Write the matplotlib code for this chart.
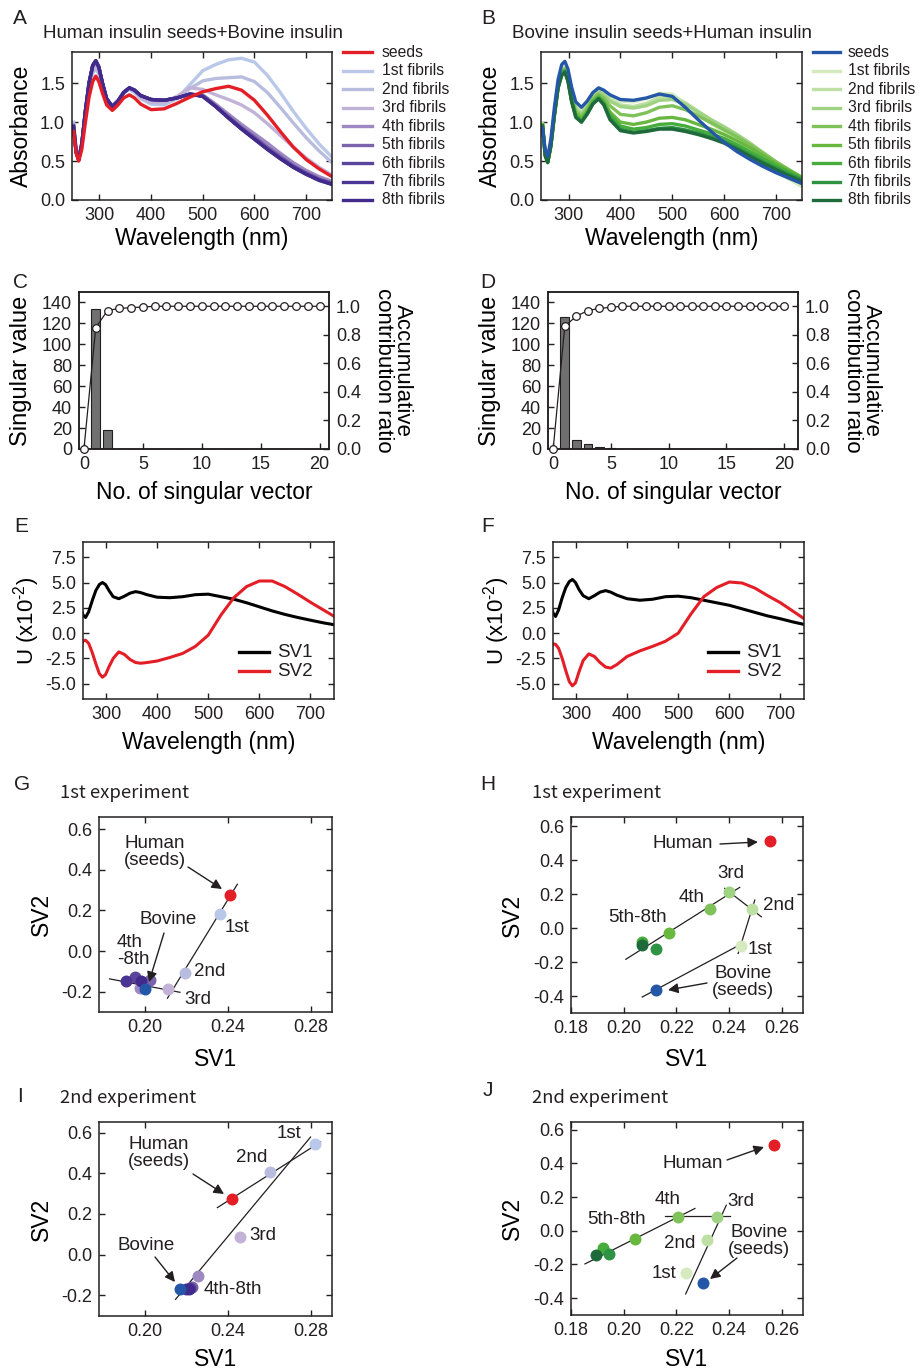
import matplotlib
matplotlib.use("Agg")
import matplotlib.pyplot as plt
from matplotlib.lines import Line2D

plt.rcParams['font.family'] = ['Liberation Sans', 'DejaVu Sans']
plt.rcParams['mathtext.fontset'] = 'custom'
plt.rcParams['mathtext.rm'] = 'Liberation Sans'
plt.rcParams['axes.unicode_minus'] = False
TXT = '#231f20'
plt.rcParams['text.color'] = TXT

# ---------------- data ----------------
wl = [250, 255, 260, 266, 273, 280, 287, 293, 299, 306, 314, 325, 336, 347, 358, 368, 380,
      400, 425, 450, 475, 500, 525, 550, 575, 600, 625, 650, 675, 700, 725, 750]

spec_labels = ['seeds', '1st fibrils', '2nd fibrils', '3rd fibrils', '4th fibrils',
               '5th fibrils', '6th fibrils', '7th fibrils', '8th fibrils']

# A: human seeds + bovine insulin
a_seeds = [0.88, 0.60, 0.50, 0.65, 1.00, 1.32, 1.52, 1.59, 1.52, 1.37, 1.22, 1.15, 1.22, 1.31, 1.35, 1.31, 1.23,
           1.16, 1.17, 1.24, 1.32, 1.39, 1.43, 1.46, 1.41, 1.28, 1.09, 0.88, 0.68, 0.52, 0.40, 0.30]
a_f1 = [1.00, 0.66, 0.54, 0.74, 1.12, 1.45, 1.63, 1.68, 1.62, 1.45, 1.29, 1.21, 1.28, 1.37, 1.42, 1.38, 1.30,
        1.23, 1.22, 1.30, 1.48, 1.66, 1.74, 1.80, 1.82, 1.77, 1.60, 1.38, 1.14, 0.92, 0.72, 0.55]
a_f2 = [0.98, 0.65, 0.53, 0.73, 1.12, 1.46, 1.65, 1.70, 1.63, 1.46, 1.29, 1.21, 1.28, 1.38, 1.43, 1.39, 1.31,
        1.25, 1.24, 1.31, 1.43, 1.53, 1.56, 1.57, 1.58, 1.52, 1.38, 1.19, 0.99, 0.80, 0.63, 0.48]
a_f3 = [0.97, 0.64, 0.53, 0.73, 1.13, 1.47, 1.68, 1.73, 1.66, 1.47, 1.29, 1.21, 1.28, 1.39, 1.44, 1.40, 1.32,
        1.26, 1.26, 1.33, 1.44, 1.42, 1.35, 1.29, 1.22, 1.12, 0.98, 0.83, 0.68, 0.54, 0.42, 0.32]
a_f4 = [0.96, 0.63, 0.52, 0.73, 1.14, 1.49, 1.71, 1.77, 1.69, 1.49, 1.30, 1.20, 1.27, 1.38, 1.44, 1.41, 1.34,
        1.29, 1.28, 1.31, 1.36, 1.35, 1.23, 1.10, 0.97, 0.85, 0.73, 0.60, 0.48, 0.38, 0.30, 0.24]
a_f5 = [0.95, 0.62, 0.52, 0.72, 1.15, 1.50, 1.72, 1.78, 1.70, 1.50, 1.30, 1.20, 1.27, 1.38, 1.44, 1.41, 1.34,
        1.29, 1.28, 1.31, 1.36, 1.34, 1.21, 1.07, 0.93, 0.81, 0.68, 0.56, 0.44, 0.35, 0.27, 0.22]
a_f6 = [0.95, 0.62, 0.52, 0.72, 1.15, 1.50, 1.72, 1.78, 1.70, 1.50, 1.30, 1.20, 1.27, 1.38, 1.44, 1.41, 1.34,
        1.29, 1.28, 1.31, 1.36, 1.33, 1.20, 1.06, 0.92, 0.79, 0.66, 0.54, 0.43, 0.34, 0.26, 0.21]
a_f7 = [0.94, 0.61, 0.51, 0.72, 1.15, 1.51, 1.73, 1.79, 1.71, 1.50, 1.30, 1.20, 1.27, 1.38, 1.44, 1.41, 1.34,
        1.29, 1.28, 1.31, 1.36, 1.33, 1.20, 1.05, 0.91, 0.78, 0.65, 0.53, 0.42, 0.33, 0.26, 0.20]
a_f8 = [0.94, 0.61, 0.51, 0.72, 1.15, 1.51, 1.73, 1.79, 1.71, 1.50, 1.30, 1.20, 1.27, 1.38, 1.44, 1.41, 1.34,
        1.29, 1.28, 1.31, 1.36, 1.33, 1.20, 1.05, 0.91, 0.78, 0.65, 0.53, 0.42, 0.33, 0.25, 0.20]
a_colors = ['#e41e26', '#b9c8e8', '#b8bde0', '#c2b2d8', '#9d88c2', '#7a62ac', '#5a449c', '#4b3594', '#412a8c']

# B: bovine seeds + human insulin
b_seeds = [0.92, 0.65, 0.56, 0.78, 1.20, 1.55, 1.74, 1.78, 1.68, 1.45, 1.26, 1.19, 1.27, 1.38, 1.44, 1.41, 1.35,
           1.29, 1.28, 1.31, 1.36, 1.33, 1.19, 1.03, 0.88, 0.74, 0.62, 0.52, 0.43, 0.35, 0.28, 0.21]
b_f1 = [0.98, 0.62, 0.52, 0.74, 1.15, 1.50, 1.68, 1.72, 1.63, 1.42, 1.24, 1.17, 1.26, 1.37, 1.42, 1.39, 1.33,
        1.27, 1.26, 1.30, 1.37, 1.36, 1.24, 1.09, 0.98, 0.88, 0.77, 0.64, 0.50, 0.38, 0.27, 0.17]
b_f2 = [0.98, 0.61, 0.51, 0.73, 1.14, 1.49, 1.66, 1.70, 1.60, 1.38, 1.19, 1.12, 1.22, 1.35, 1.40, 1.36, 1.29,
        1.22, 1.20, 1.24, 1.32, 1.33, 1.25, 1.14, 1.03, 0.93, 0.82, 0.71, 0.58, 0.45, 0.34, 0.23]
b_f3 = [0.97, 0.60, 0.50, 0.72, 1.13, 1.48, 1.65, 1.69, 1.59, 1.36, 1.17, 1.10, 1.20, 1.33, 1.39, 1.35, 1.27,
        1.20, 1.18, 1.21, 1.28, 1.29, 1.23, 1.13, 1.03, 0.94, 0.84, 0.73, 0.61, 0.49, 0.38, 0.27]
b_f4 = [0.97, 0.59, 0.50, 0.71, 1.12, 1.47, 1.64, 1.68, 1.57, 1.33, 1.14, 1.07, 1.17, 1.30, 1.36, 1.31, 1.21,
        1.10, 1.08, 1.12, 1.19, 1.21, 1.16, 1.08, 0.99, 0.90, 0.81, 0.71, 0.60, 0.49, 0.39, 0.29]
b_f5 = [0.96, 0.58, 0.49, 0.70, 1.11, 1.46, 1.63, 1.67, 1.55, 1.30, 1.11, 1.04, 1.14, 1.27, 1.33, 1.27, 1.13,
        1.00, 0.97, 1.00, 1.05, 1.06, 1.03, 0.97, 0.91, 0.84, 0.76, 0.67, 0.57, 0.47, 0.38, 0.29]
b_f6 = [0.96, 0.58, 0.49, 0.70, 1.10, 1.45, 1.62, 1.66, 1.54, 1.28, 1.09, 1.02, 1.12, 1.25, 1.32, 1.25, 1.09,
        0.95, 0.91, 0.93, 0.97, 0.98, 0.95, 0.90, 0.85, 0.79, 0.71, 0.62, 0.53, 0.44, 0.36, 0.28]
b_f7 = [0.95, 0.57, 0.48, 0.69, 1.10, 1.44, 1.61, 1.65, 1.53, 1.27, 1.07, 1.00, 1.11, 1.24, 1.30, 1.23, 1.05,
        0.91, 0.87, 0.89, 0.92, 0.93, 0.90, 0.86, 0.81, 0.75, 0.67, 0.58, 0.49, 0.41, 0.33, 0.26]
b_f8 = [0.95, 0.57, 0.48, 0.69, 1.09, 1.44, 1.60, 1.64, 1.52, 1.26, 1.06, 1.00, 1.10, 1.23, 1.30, 1.22, 1.03,
        0.89, 0.86, 0.88, 0.91, 0.91, 0.88, 0.84, 0.79, 0.73, 0.65, 0.56, 0.47, 0.39, 0.31, 0.24]
b_colors = ['#2457a8', '#d6eabf', '#bfe0a5', '#9fd283', '#80c25a', '#68b840', '#46ac3c', '#2e9444', '#1f6a3a']

# C / D: singular values and accumulative contribution ratio
sv_num = list(range(1, 21))
c_sv = [134, 18, 0.4, 0.3, 0.2, 0.2, 0.1, 0.1, 0.1, 0.1, 0.1, 0.1, 0.1, 0.1, 0.1, 0.1, 0.1, 0.1, 0.1, 0.1]
d_sv = [126, 9, 5, 1.5, 0.5, 0.3, 0.2, 0.1, 0.1, 0.1, 0.1, 0.1, 0.1, 0.1, 0.1, 0.1, 0.1, 0.1, 0.1, 0.1]
acc_num = list(range(0, 21))
c_acc = [0, 0.85, 0.97, 0.985, 0.99, 0.995] + [1.0] * 15
d_acc = [0, 0.86, 0.93, 0.97, 0.985, 0.993] + [1.0] * 15

# E / F: U vectors (x10^-2)
e_sv1 = [2.6, 1.8, 1.55, 2.1, 3.2, 4.2, 4.8, 5.0, 4.8, 4.2, 3.6, 3.4, 3.65, 3.95, 4.1, 4.0, 3.8,
         3.55, 3.5, 3.6, 3.8, 3.85, 3.6, 3.35, 3.0, 2.6, 2.2, 1.85, 1.55, 1.28, 1.02, 0.8]
e_sv2 = [-1.4, -0.75, -0.7, -1.0, -1.9, -3.0, -4.0, -4.35, -4.1, -3.3, -2.5, -1.85, -2.1, -2.6, -2.9, -2.97, -2.9,
         -2.75, -2.4, -2.0, -1.3, -0.2, 1.8, 3.5, 4.6, 5.15, 5.15, 4.6, 3.85, 3.05, 2.3, 1.55]
f_sv1 = [3.1, 2.0, 1.65, 2.3, 3.5, 4.5, 5.1, 5.3, 5.0, 4.3, 3.7, 3.4, 3.7, 4.05, 4.2, 4.05, 3.75,
         3.4, 3.25, 3.35, 3.6, 3.65, 3.5, 3.25, 3.0, 2.75, 2.4, 2.05, 1.7, 1.42, 1.1, 0.82]
f_sv2 = [-1.5, -1.05, -1.1, -1.5, -2.5, -3.7, -4.8, -5.2, -4.9, -3.8, -2.7, -2.05, -2.3, -2.9, -3.35, -3.45, -3.1,
         -2.3, -1.75, -1.3, -0.8, 0.0, 1.9, 3.6, 4.5, 5.05, 4.95, 4.45, 3.7, 3.0, 2.15, 1.3]

# G-J: SV1/SV2 scores, order: human seeds, 1st..8th fibrils, bovine seeds
g_x = [0.2410, 0.2362, 0.2195, 0.2113, 0.1976, 0.2027, 0.1952, 0.1908, 0.1984, 0.2000]
g_y = [0.276, 0.181, -0.109, -0.187, -0.183, -0.142, -0.126, -0.147, -0.147, -0.188]
h_x = [0.2553, 0.2444, 0.2488, 0.2399, 0.2326, 0.2171, 0.2071, 0.2122, 0.2071, 0.2124]
h_y = [0.512, -0.105, 0.109, 0.209, 0.109, -0.032, -0.085, -0.121, -0.099, -0.366]
i_x = [0.2419, 0.2817, 0.2604, 0.2459, 0.2257, 0.2225, 0.2217, 0.2200, 0.2212, 0.2169]
i_y = [0.272, 0.546, 0.406, 0.087, -0.107, -0.158, -0.165, -0.170, -0.168, -0.167]
j_x = [0.2569, 0.2235, 0.2314, 0.2352, 0.2206, 0.2042, 0.1920, 0.1944, 0.1895, 0.2301]
j_y = [0.509, -0.252, -0.056, 0.082, 0.082, -0.048, -0.101, -0.140, -0.142, -0.311]

# fitted guide lines (start/end of each segment)
g_lines_x = [[0.2109, 0.2445], [0.1831, 0.2169]]
g_lines_y = [[-0.232, 0.329], [-0.137, -0.203]]
h_lines_x = [[0.2008, 0.2440], [0.2383, 0.2522], [0.2497, 0.2434], [0.2070, 0.2450]]
h_lines_y = [[-0.184, 0.239], [0.233, 0.066], [0.164, -0.150], [-0.406, -0.091]]
i_lines_x = [[0.2148, 0.2797], [0.2349, 0.2845]]
i_lines_y = [[-0.220, 0.578], [0.231, 0.554]]
j_lines_x = [[0.1853, 0.2270], [0.2156, 0.2402], [0.2235, 0.2389]]
j_lines_y = [[-0.197, 0.132], [0.086, 0.086], [-0.375, 0.151]]

# ---------------- figure ----------------
W, H = 921, 1372
fig = plt.figure(figsize=(W / 100, H / 100), dpi=100)
TICK_FS = 13


def box(l, t, r, b):
    return fig.add_axes([l / W, 1 - b / H, (r - l) / W, (b - t) / H])


def style(ax, top=True, right=True):
    ax.tick_params(direction='in', length=4, width=1, top=top, right=right,
                   labelsize=TICK_FS, pad=5, colors=TXT)
    for s in ax.spines.values():
        s.set_linewidth(1.1)
        s.set_color(TXT)


def ftext(x, y, s, **kw):
    fig.text(x / W, 1 - y / H, s, **kw)


def labels(ax, xl, yl, xlab_y, ylab_x, fs=16.5, yfs=None):
    l, b, w, h = ax.get_position().bounds
    ax.set_xlabel(xl, fontsize=fs, va='center')
    ax.set_ylabel(yl, fontsize=yfs or fs, va='center')
    ax.xaxis.set_label_coords(0.5, ((1 - xlab_y / H) - b) / h)
    ax.yaxis.set_label_coords((ylab_x / W - l) / w, 0.5)


def legend_rows(x0, x1, xt, y0, dy, labs, cols, fs):
    for i, (lab, c) in enumerate(zip(labs, cols)):
        y = 1 - (y0 + i * dy) / H
        fig.add_artist(Line2D([x0 / W, x1 / W], [y, y], color=c, lw=2.4))
        fig.text(xt / W, y, lab, va='center', ha='left', fontsize=fs)


def arrow(ax, tail, head):
    ax.annotate('', xy=(head[0], H - head[1]), xycoords='figure pixels',
                xytext=(tail[0], H - tail[1]), textcoords='figure pixels',
                arrowprops=dict(arrowstyle='-|>', color=TXT, lw=1.0,
                                mutation_scale=15, shrinkA=0, shrinkB=0))


def note(x, y, s, ha='left', fs=13.5):
    ftext(x, y, s, ha=ha, va='center', fontsize=fs, linespacing=1.0)


# panel letters
for letter, (x, y) in {'A': (20, 18), 'B': (488, 18), 'C': (20, 283), 'D': (488, 283),
                       'E': (21, 527), 'F': (488, 527), 'G': (22, 785), 'H': (488, 785),
                       'I': (20, 1096), 'J': (488, 1090)}.items():
    ftext(x, y, letter, ha='center', va='center', fontsize=15)

# ---- A / B spectra ----
a_curves = [a_seeds, a_f1, a_f2, a_f3, a_f4, a_f5, a_f6, a_f7, a_f8]
b_curves = [b_seeds, b_f1, b_f2, b_f3, b_f4, b_f5, b_f6, b_f7, b_f8]
for curves, cols, (l, r), title, leg_x in [
        (a_curves, a_colors, (72, 332), 'Human insulin seeds+Bovine insulin', (343, 372, 382)),
        (b_curves, b_colors, (541, 802), 'Bovine insulin seeds+Human insulin', (813, 840, 848))]:
    ax = box(l, 52, r, 200)
    for k in list(range(1, 9)) + [0]:
        ax.plot(wl, curves[k], color=cols[k], lw=2.4)
    ax.set_xlim(247, 750)
    ax.set_ylim(0, 1.9)
    ax.set_xticks([300, 400, 500, 600, 700])
    ax.set_yticks([0.0, 0.5, 1.0, 1.5])
    ax.set_yticklabels(['0.0', '0.5', '1.0', '1.5'])
    style(ax)
    labels(ax, 'Wavelength (nm)', 'Absorbance', 239, l - 51)
    ftext(l - 29, 33, title, ha='left', va='center', fontsize=13.5)
    legend_rows(leg_x[0], leg_x[1], leg_x[2], 52.3, 18.46, spec_labels, cols, 11.3)

# ---- C / D singular values ----
for sv, acc, (l, r), xlim, rl_x in [(c_sv, c_acc, (79, 329), (-0.42, 20.8), 393),
                                    (d_sv, d_acc, (548, 798), (-0.45, 21.2), 862)]:
    ax = box(l, 292, r, 449)
    ax.bar(sv_num, sv, width=0.75, color='#707070', edgecolor=TXT, linewidth=0.8)
    ax.set_xlim(*xlim)
    ax.set_ylim(0, 150)
    ax.set_xticks([0, 5, 10, 15, 20])
    ax.set_yticks(range(0, 141, 20))
    style(ax, top=False, right=False)
    labels(ax, 'No. of singular vector', 'Singular value', 492, l - 58, yfs=17)
    ax2 = ax.twinx()
    ax2.plot(acc_num, acc, '-o', color=TXT, lw=0.9, ms=5.5, mfc='white', mec=TXT,
             mew=0.9, clip_on=False, zorder=5)
    ax2.set_ylim(0, 1.1)
    ax2.set_yticks([0.0, 0.2, 0.4, 0.6, 0.8, 1.0])
    ax2.set_yticklabels(['0.0', '0.2', '0.4', '0.6', '0.8', '1.0'])
    style(ax2, top=False, right=True)
    ax2.tick_params(left=False)
    ax2.set_ylabel('Accumulative\ncontribution ratio', fontsize=16, rotation=270,
                   va='center', ha='center', linespacing=0.9)
    pl, pb, pw, ph = ax2.get_position().bounds
    ax2.yaxis.set_label_coords((rl_x / W - pl) / pw, 0.5)

# ---- E / F U vectors ----
for s1, s2, (l, r), leg in [(e_sv1, e_sv2, (83, 334), (239, 269, 277)),
                            (f_sv1, f_sv2, (553, 804), (708, 738, 746))]:
    ax = box(l, 542, r, 699)
    ax.plot(wl, s1, color='black', lw=2.2)
    ax.plot(wl, s2, color='#e41e26', lw=2.2)
    ax.set_xlim(255, 746)
    ax.set_ylim(-6.5, 9.0)
    ax.set_xticks([300, 400, 500, 600, 700])
    ax.set_yticks([-5.0, -2.5, 0.0, 2.5, 5.0, 7.5])
    ax.set_yticklabels(['-5.0', '-2.5', '0.0', '2.5', '5.0', '7.5'])
    style(ax)
    labels(ax, 'Wavelength (nm)', r'U (x10$^{\text{-2}}$)', 743, l - 56, yfs=16)
    legend_rows(leg[0], leg[1], leg[2], 652, 19, ['SV1', 'SV2'], ['black', '#e41e26'], 13.5)


# ---- G-J score plots ----
def score_panel(l, t, r, b, xs, ys, lxs, lys, cols, xlim, ylim, xticks, yticks, title):
    ax = box(l, t, r, b)
    for lx, ly in zip(lxs, lys):
        ax.plot(lx, ly, color=TXT, lw=0.9, zorder=2)
    for k in [1, 2, 3, 4, 5, 6, 7, 8, 9, 0]:
        if k == 0:
            c = '#e41e26'
        elif k == 9:
            c = '#2457a8'
        else:
            c = cols[k]
        ax.scatter([xs[k]], [ys[k]], s=74, color=c, linewidths=0, zorder=3)
    ax.set_xlim(*xlim)
    ax.set_ylim(*ylim)
    ax.set_xticks(xticks)
    ax.set_xticklabels(['%.2f' % v for v in xticks])
    ax.set_yticks(yticks)
    ax.set_yticklabels(['%.1f' % v for v in yticks])
    style(ax)
    ftext(l - 39, t - 24, title, ha='left', va='center', fontsize=13.3,
          family=['Noto Sans CJK JP', 'DejaVu Sans'])
    return ax


ax = score_panel(99, 817, 332, 1012, g_x, g_y, g_lines_x, g_lines_y, a_colors,
                 (0.178, 0.29), (-0.3, 0.66), [0.20, 0.24, 0.28], [-0.2, 0.0, 0.2, 0.4, 0.6],
                 '1st experiment')
labels(ax, 'SV1', 'SV2', 1059, 41)
note(155, 852, 'Human\n(seeds)', ha='center')
arrow(ax, (188, 867), (222, 889))
note(225, 927, '1st')
note(194, 972, '2nd')
note(184, 999, '3rd')
note(139, 920, 'Bovine')
arrow(ax, (164, 933), (149, 982))
note(117, 951, '4th\n-8th')

ax = score_panel(571, 817, 803, 1013, h_x, h_y, h_lines_x, h_lines_y, b_colors,
                 (0.18, 0.268), (-0.5, 0.653), [0.18, 0.20, 0.22, 0.24, 0.26],
                 [-0.4, -0.2, 0.0, 0.2, 0.4, 0.6], '1st experiment')
labels(ax, 'SV1', 'SV2', 1059, 512)
note(683, 843, 'Human', ha='center')
arrow(ax, (720, 844), (758, 842))
note(731, 873, '3rd', ha='center')
note(692, 897, '4th', ha='center')
note(638, 917, '5th-8th', ha='center')
note(763, 905, '2nd')
note(748, 950, '1st')
note(743, 982, 'Bovine\n(seeds)', ha='center')
arrow(ax, (707, 983), (668, 990))

ax = score_panel(99, 1122, 332, 1316, i_x, i_y, i_lines_x, i_lines_y, a_colors,
                 (0.178, 0.29), (-0.302, 0.652), [0.20, 0.24, 0.28], [-0.2, 0.0, 0.2, 0.4, 0.6],
                 '2nd experiment')
labels(ax, 'SV1', 'SV2', 1360, 41)
note(159, 1153, 'Human\n(seeds)', ha='center')
arrow(ax, (193, 1174), (224, 1194))
note(252, 1157, '2nd', ha='center')
note(289, 1133, '1st', ha='center')
note(249, 1236, '3rd')
note(146, 1246, 'Bovine', ha='center')
arrow(ax, (155, 1257), (175, 1282))
note(204, 1289, '4th-8th')

ax = score_panel(571, 1122, 803, 1315, j_x, j_y, j_lines_x, j_lines_y, b_colors,
                 (0.18, 0.268), (-0.5, 0.645), [0.18, 0.20, 0.22, 0.24, 0.26],
                 [-0.4, -0.2, 0.0, 0.2, 0.4, 0.6], '2nd experiment')
labels(ax, 'SV1', 'SV2', 1360, 512)
note(693, 1163, 'Human', ha='center')
arrow(ax, (727, 1160), (764, 1147))
note(668, 1200, '4th', ha='center')
note(727, 1201, '3rd')
note(617, 1219, '5th-8th', ha='center')
note(680, 1243, '2nd', ha='center')
note(664, 1273, '1st', ha='center')
note(759, 1241, 'Bovine\n(seeds)', ha='center')
arrow(ax, (737, 1258), (710, 1279))

fig.savefig('out.png', dpi=100)
